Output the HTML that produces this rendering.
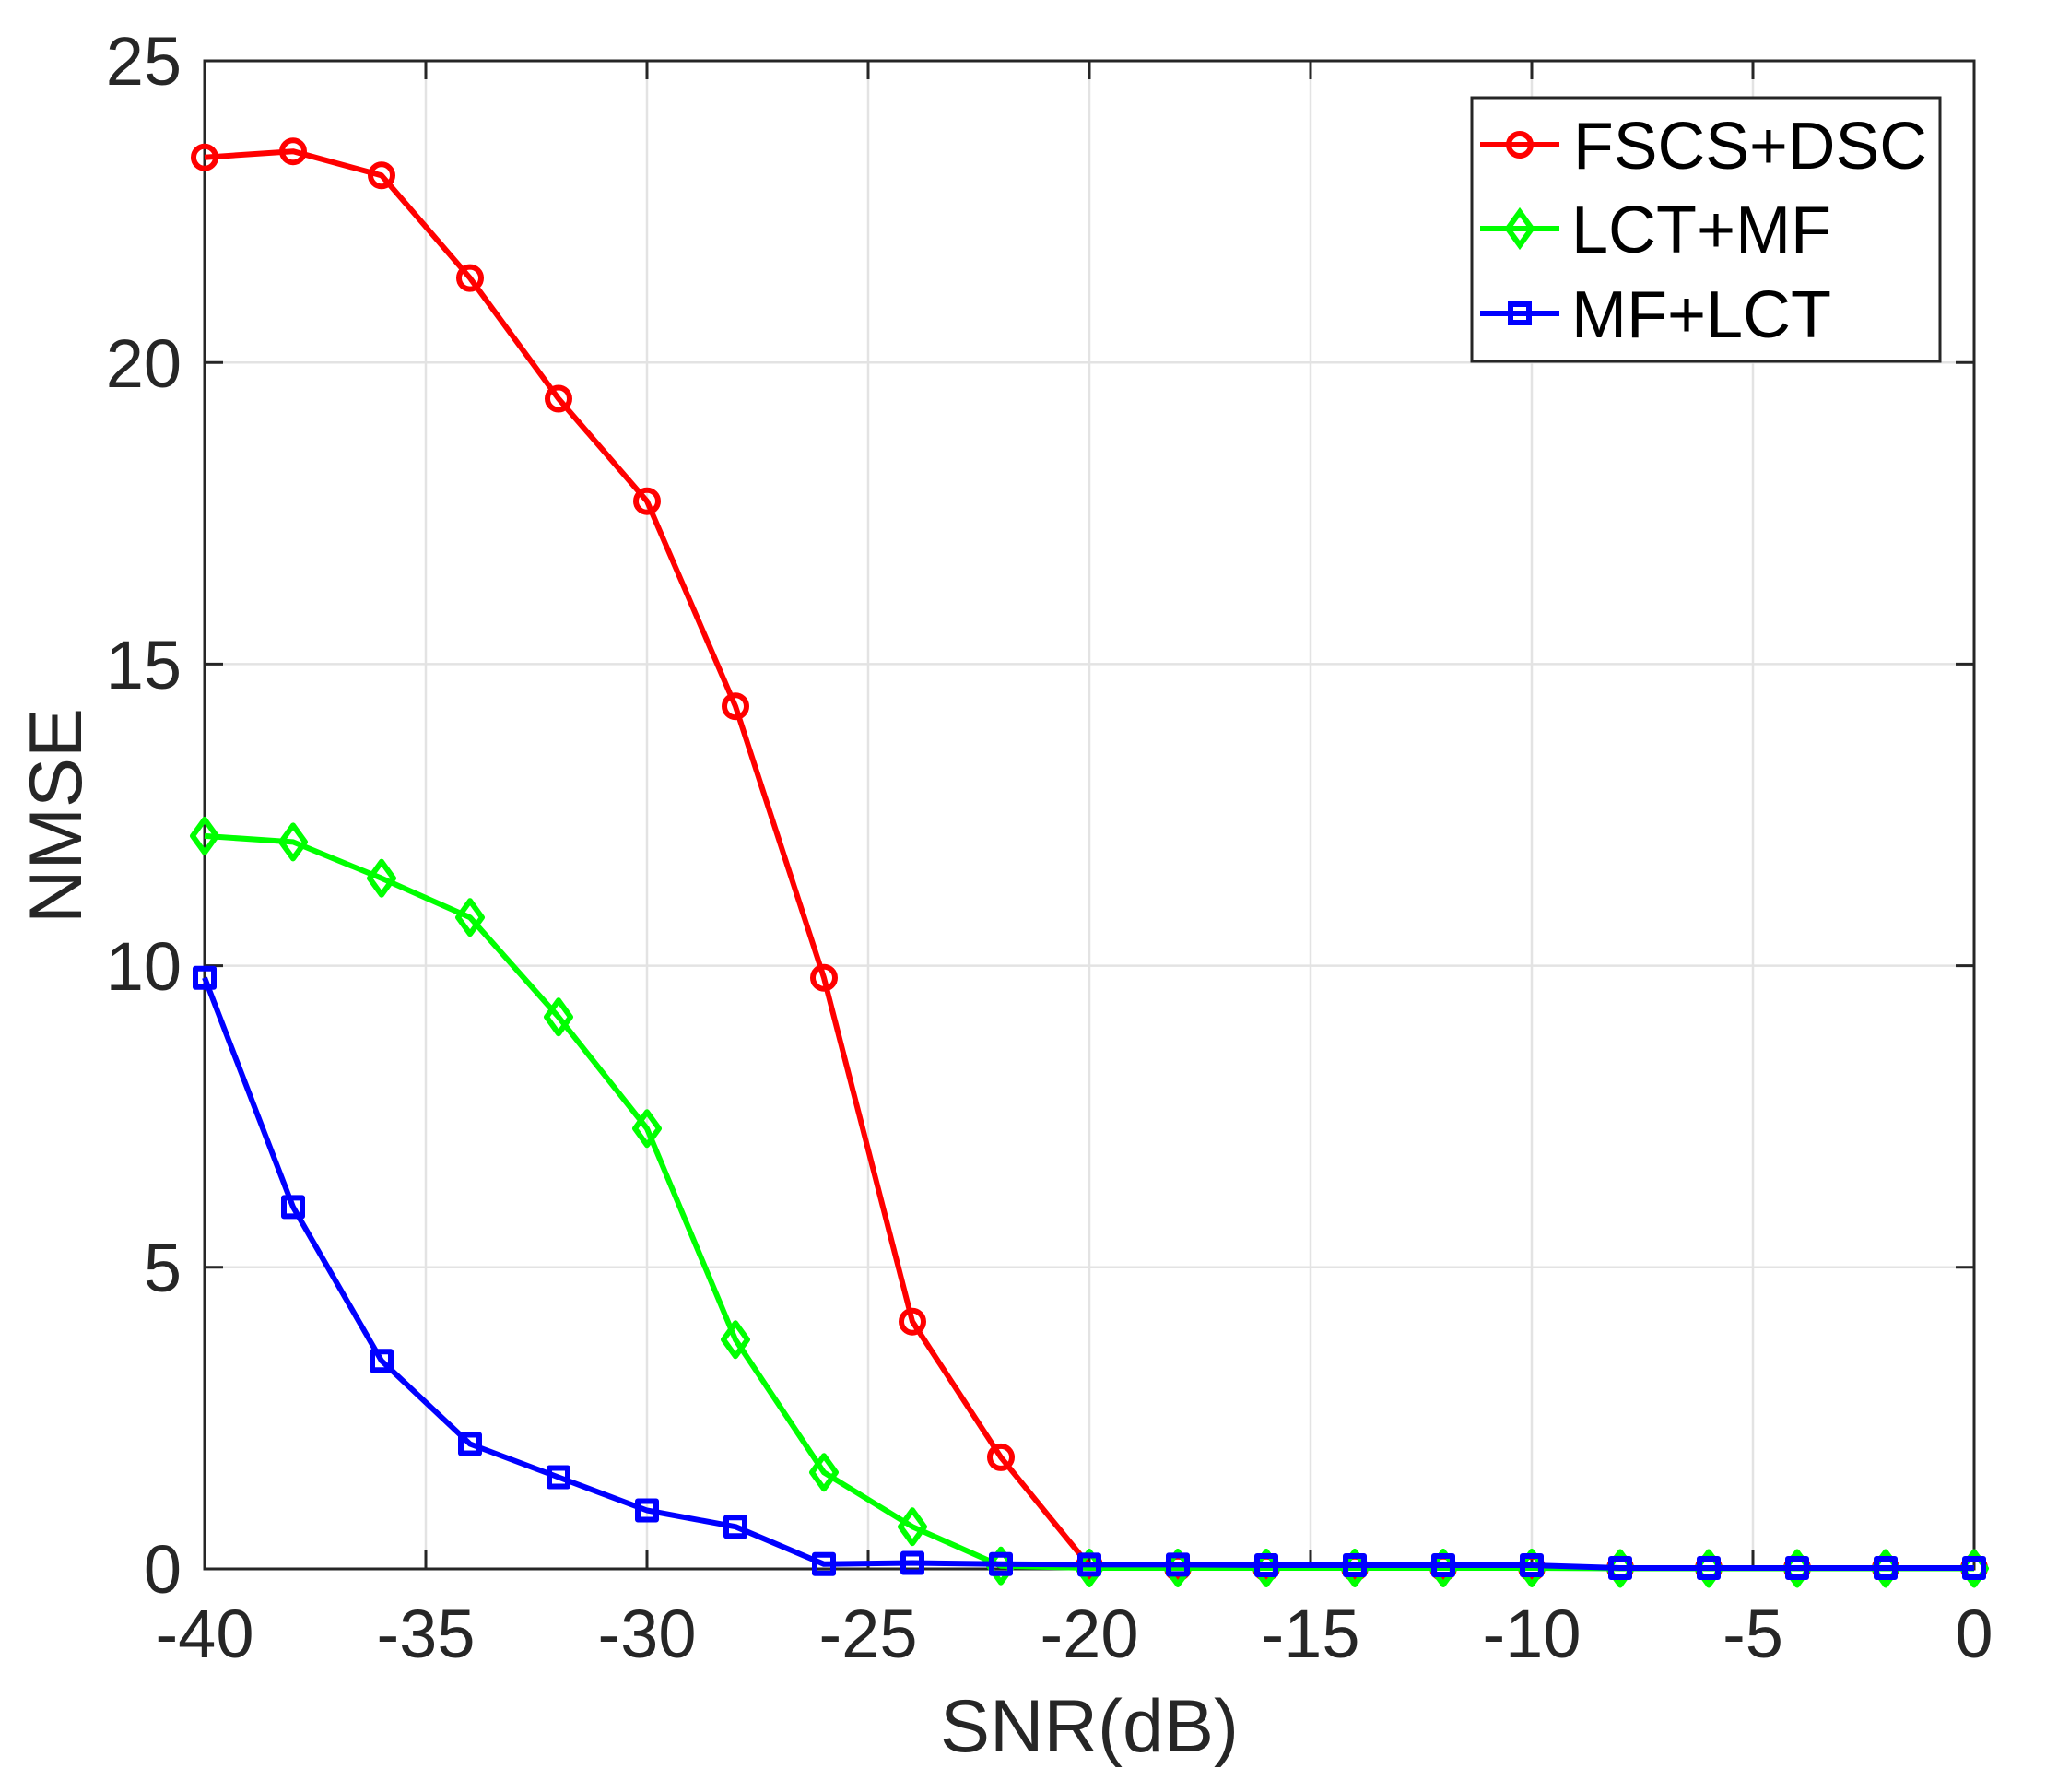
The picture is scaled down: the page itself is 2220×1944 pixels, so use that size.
<!DOCTYPE html>
<html><head><meta charset="utf-8"><style>html,body{margin:0;padding:0;background:#fff}svg{display:block}</style></head>
<body>
<svg width="2220" height="1944" viewBox="0 0 2220 1944" xmlns="http://www.w3.org/2000/svg" font-family="Liberation Sans, Arial, sans-serif">
<rect width="2220" height="1944" fill="#fff"/>
<g stroke="#e3e3e3" stroke-width="2.5">
<line x1="462" y1="66" x2="462" y2="1702"/><line x1="702" y1="66" x2="702" y2="1702"/><line x1="942" y1="66" x2="942" y2="1702"/><line x1="1182" y1="66" x2="1182" y2="1702"/><line x1="1422" y1="66" x2="1422" y2="1702"/><line x1="1662" y1="66" x2="1662" y2="1702"/><line x1="1902" y1="66" x2="1902" y2="1702"/>
<line x1="222" y1="1374.8" x2="2142" y2="1374.8"/><line x1="222" y1="1047.6" x2="2142" y2="1047.6"/><line x1="222" y1="720.4" x2="2142" y2="720.4"/><line x1="222" y1="393.2" x2="2142" y2="393.2"/>
</g>
<g stroke="#262626" stroke-width="3">
<rect x="222" y="66" width="1920" height="1636" fill="none"/>
<path d="M462 1702v-20M702 1702v-20M942 1702v-20M1182 1702v-20M1422 1702v-20M1662 1702v-20M1902 1702v-20
M462 66v20M702 66v20M942 66v20M1182 66v20M1422 66v20M1662 66v20M1902 66v20
M222 1374.8h20M222 1047.6h20M222 720.4h20M222 393.2h20
M2142 1374.8h-20M2142 1047.6h-20M2142 720.4h-20M2142 393.2h-20"/>
</g>
<g fill="#262626" font-size="74" text-anchor="end">
<text x="197" y="1728">0</text><text x="197" y="1401">5</text><text x="197" y="1074">10</text><text x="197" y="747">15</text><text x="197" y="420">20</text><text x="197" y="92">25</text>
</g>
<g fill="#262626" font-size="74" text-anchor="middle">
<text x="222" y="1798">-40</text><text x="462" y="1798">-35</text><text x="702" y="1798">-30</text><text x="942" y="1798">-25</text><text x="1182" y="1798">-20</text><text x="1422" y="1798">-15</text><text x="1662" y="1798">-10</text><text x="1902" y="1798">-5</text><text x="2142" y="1798">0</text>
</g>
<text x="1182" y="1900" fill="#262626" font-size="81" text-anchor="middle">SNR(dB)</text>
<text transform="translate(88,885) rotate(-90)" fill="#262626" font-size="81" text-anchor="middle">NMSE</text>

<g fill="none" stroke-width="6" stroke-linejoin="round">
<polyline stroke="#ff0000" points="222,170.7 318,164.2 414,190.3 510,301.6 606,432.5 702,543.7 798,766.2 894,1060.7 990,1433.7 1086,1580.9 1182,1698.7 1278,1700.7 1374,1700.7 1470,1700.7 1566,1700.7 1662,1700.7 1758,1701 1854,1701 1950,1701 2046,1701 2142,1701"/>
<g stroke="#ff0000">
<circle cx="222" cy="170.7" r="12"/><circle cx="318" cy="164.2" r="12"/><circle cx="414" cy="190.3" r="12"/><circle cx="510" cy="301.6" r="12"/><circle cx="606" cy="432.5" r="12"/><circle cx="702" cy="543.7" r="12"/><circle cx="798" cy="766.2" r="12"/><circle cx="894" cy="1060.7" r="12"/><circle cx="990" cy="1433.7" r="12"/><circle cx="1086" cy="1580.9" r="12"/><circle cx="1182" cy="1698.7" r="12"/><circle cx="1278" cy="1700.7" r="12"/><circle cx="1374" cy="1700.7" r="12"/><circle cx="1470" cy="1700.7" r="12"/><circle cx="1566" cy="1700.7" r="12"/><circle cx="1662" cy="1700.7" r="12"/><circle cx="1758" cy="1701" r="12"/><circle cx="1854" cy="1701" r="12"/><circle cx="1950" cy="1701" r="12"/><circle cx="2046" cy="1701" r="12"/><circle cx="2142" cy="1701" r="12"/>
</g>
<polyline stroke="#00ff00" points="222,906.9 318,913.4 414,952.7 510,995.2 606,1103.2 702,1224.3 798,1453.3 894,1597.3 990,1656.2 1086,1698.7 1182,1701 1278,1701 1374,1701 1470,1701 1566,1701 1662,1701 1758,1701.5 1854,1701.5 1950,1701.5 2046,1701.5 2142,1701.5"/>
<g stroke="#00ff00">
<path d="M222 888.9l13 18l-13 18l-13 -18z M318 895.4l13 18l-13 18l-13 -18z M414 934.7l13 18l-13 18l-13 -18z M510 977.2l13 18l-13 18l-13 -18z M606 1085.2l13 18l-13 18l-13 -18z M702 1206.3l13 18l-13 18l-13 -18z M798 1435.3l13 18l-13 18l-13 -18z M894 1579.3l13 18l-13 18l-13 -18z M990 1638.2l13 18l-13 18l-13 -18z M1086 1680.7l13 18l-13 18l-13 -18z M1182 1683l13 18l-13 18l-13 -18z M1278 1683l13 18l-13 18l-13 -18z M1374 1683l13 18l-13 18l-13 -18z M1470 1683l13 18l-13 18l-13 -18z M1566 1683l13 18l-13 18l-13 -18z M1662 1683l13 18l-13 18l-13 -18z M1758 1683.5l13 18l-13 18l-13 -18z M1854 1683.5l13 18l-13 18l-13 -18z M1950 1683.5l13 18l-13 18l-13 -18z M2046 1683.5l13 18l-13 18l-13 -18z M2142 1683.5l13 18l-13 18l-13 -18z"/>
</g>
<polyline stroke="#0000ff" points="222,1060.7 318,1309.4 414,1476.2 510,1566.5 606,1602.5 702,1638.5 798,1656.2 894,1696.8 990,1695.5 1086,1696.8 1182,1697.4 1278,1697.4 1374,1698 1470,1698 1566,1698 1662,1698 1758,1701 1854,1701 1950,1701 2046,1701 2142,1701"/>
<g stroke="#0000ff">
<path d="M212 1050.7h20v20h-20z M308 1299.4h20v20h-20z M404 1466.2h20v20h-20z M500 1556.5h20v20h-20z M596 1592.5h20v20h-20z M692 1628.5h20v20h-20z M788 1646.2h20v20h-20z M884 1686.8h20v20h-20z M980 1685.5h20v20h-20z M1076 1686.8h20v20h-20z M1172 1687.4h20v20h-20z M1268 1687.4h20v20h-20z M1364 1688h20v20h-20z M1460 1688h20v20h-20z M1556 1688h20v20h-20z M1652 1688h20v20h-20z M1748 1691h20v20h-20z M1844 1691h20v20h-20z M1940 1691h20v20h-20z M2036 1691h20v20h-20z M2132 1691h20v20h-20z"/>
</g>
</g>

<rect x="1597" y="106" width="508" height="286" fill="#fff" stroke="#262626" stroke-width="3"/>
<g fill="none" stroke-width="6">
<line x1="1606" y1="157" x2="1692" y2="157" stroke="#ff0000"/><circle cx="1649" cy="157" r="12" stroke="#ff0000"/>
<line x1="1606" y1="248" x2="1692" y2="248" stroke="#00ff00"/><path d="M1649 230l13 18l-13 18l-13 -18z" stroke="#00ff00"/>
<line x1="1606" y1="340" x2="1692" y2="340" stroke="#0000ff"/><path d="M1639 330h20v20h-20z" stroke="#0000ff"/>
</g>
<g fill="#000" font-size="72">
<text x="1707" y="183" textLength="384" lengthAdjust="spacingAndGlyphs">FSCS+DSC</text>
<text x="1705" y="274">LCT+MF</text>
<text x="1705" y="366">MF+LCT</text>
</g>
</svg>
</body></html>
